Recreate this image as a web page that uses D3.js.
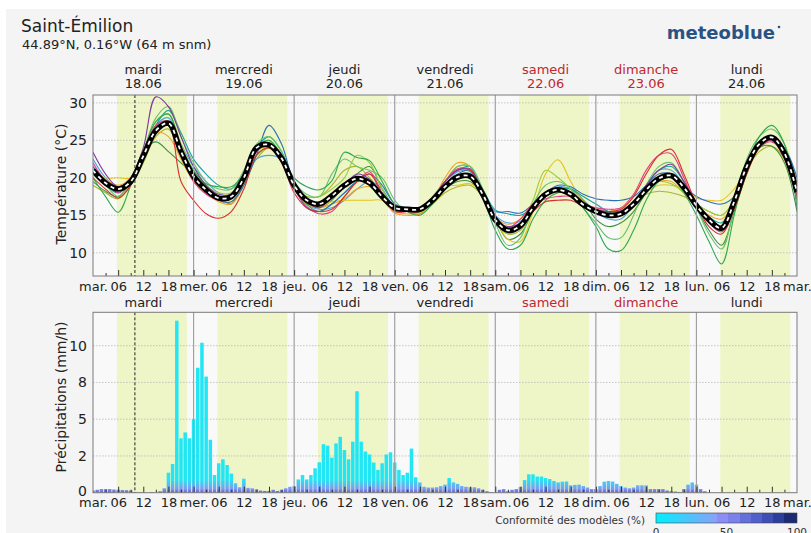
<!DOCTYPE html>
<html><head><meta charset="utf-8">
<script src="https://cdn.jsdelivr.net/npm/d3@7"></script>
<style>
body{margin:0;background:#fff;}
svg{display:block;font-family:"DejaVu Sans",sans-serif;}
</style></head><body>
<svg id="c" width="811" height="533"></svg>
<script>
// ---------- DATA ----------
const dayNames = ["mardi","mercredi","jeudi","vendredi","samedi","dimanche","lundi"];
const dayDates = ["18.06","19.06","20.06","21.06","22.06","23.06","24.06"];
const dayAbbr  = ["mar.","mer.","jeu.","ven.","sam.","dim.","lun.","mar."];
const weekendDays = [4,5];
const hourLabels = ["06","12","18"];
const tempTicks = [10,15,20,25,30];
const precipTicks = [0,2.5,5,7.5,10];
const precipTickLabels = ["0","2","5","8","10"];
const legendTicks = [0,50,100];
const sunriseHour = 5.7, sunsetHour = 22.4, nowHour = 10;

// 3-hourly temperatures (h0 .. h168)
const tempMean = [
 21.0,19.3,18.5,19.5,22.9,26.3,27.3,23.5,
 20.2,18.4,17.3,17.5,20.0,24.0,24.4,22.6,
 19.0,17.0,16.5,17.6,19.0,19.9,19.3,17.5,
 16.0,15.8,15.8,17.0,18.8,20.1,20.2,17.8,
 14.4,13.0,13.6,16.0,17.8,18.4,17.8,16.4,
 15.5,15.0,15.2,16.5,18.4,19.9,20.3,18.7,
 16.3,14.4,13.3,16.8,21.5,24.5,25.4,23.3,
 18.1];
const modelPurple = [
 23.4,20.5,18.8,20.0,24.0,30.8,29.5,25.5,
 21.5,19.0,17.8,17.8,20.0,23.5,24.5,23.0,
 19.0,16.8,16.0,17.5,19.0,20.5,19.8,17.8,
 15.8,15.6,15.6,17.2,19.5,21.0,21.2,18.0,
 14.5,13.5,14.0,16.2,18.0,18.2,17.6,16.5,
 15.8,15.5,15.6,16.8,19.0,21.0,21.8,19.5,
 16.5,14.8,13.5,16.5,21.0,24.5,25.0,23.0,
 18.5];
const modelRed = [
 20.0,18.5,17.3,19.0,23.0,26.5,27.0,19.5,
 17.0,15.2,14.6,15.5,18.5,23.0,24.0,22.0,
 18.0,16.0,15.5,15.8,17.5,19.5,20.5,17.8,
 15.5,15.5,15.5,17.2,19.5,21.0,21.0,17.5,
 14.5,13.2,13.8,15.5,16.8,17.0,17.0,16.2,
 15.5,15.5,15.8,17.5,20.5,23.0,23.8,20.5,
 16.5,13.5,12.5,15.8,20.5,24.0,25.0,22.5,
 17.5];
const modelMagenta = [
 22.0,19.5,18.0,19.8,23.5,27.0,27.5,23.0,
 19.5,17.8,17.0,17.2,19.5,23.8,24.2,22.0,
 18.5,16.2,15.2,15.5,17.5,19.5,20.8,18.0,
 15.6,15.5,15.6,17.3,19.5,21.2,21.0,17.5,
 14.0,13.3,14.5,16.5,17.2,17.5,17.5,16.5,
 16.0,15.8,16.0,17.8,21.0,23.0,23.2,20.0,
 16.2,14.0,12.8,16.0,21.0,24.0,24.8,23.0,
 17.8];
const modelOrange = [
 21.5,19.8,19.0,20.0,23.0,26.0,25.5,22.5,
 19.5,18.0,16.8,16.5,19.0,23.0,24.0,22.5,
 18.5,16.5,16.0,16.5,17.2,18.5,18.8,17.2,
 15.3,15.0,15.2,17.0,20.0,22.0,21.5,18.0,
 14.8,13.8,14.5,16.5,18.0,18.2,17.5,16.5,
 16.0,15.5,15.5,16.8,18.5,19.5,19.5,18.0,
 16.5,15.0,14.5,16.5,21.0,24.2,25.0,23.0,
 18.0];
const modelYellow = [
 21.0,20.0,20.0,20.0,22.5,26.0,27.0,23.5,
 20.0,18.0,17.0,16.8,19.5,23.5,24.0,22.5,
 18.5,16.5,16.2,16.8,17.0,17.0,17.0,17.0,
 15.5,15.2,15.3,16.8,18.8,19.0,19.2,18.0,
 14.5,11.8,11.5,15.5,20.5,22.4,19.5,16.8,
 15.5,15.5,15.8,16.5,18.0,19.0,19.0,18.5,
 17.3,17.0,17.0,18.5,21.0,24.0,25.0,23.5,
 18.5];
const modelGreen = [
 20.0,17.5,15.4,19.0,23.5,27.5,28.5,24.0,
 21.0,19.2,18.8,18.8,20.5,24.0,25.0,23.0,
 20.0,18.8,18.4,19.6,23.4,22.7,22.3,19.5,
 16.5,15.5,15.0,16.5,18.5,20.0,20.5,17.5,
 13.0,10.5,11.0,14.5,17.0,18.0,18.0,16.0,
 13.5,10.5,10.3,13.0,17.0,19.5,20.0,18.0,
 15.0,11.5,8.5,15.0,21.5,25.5,27.0,24.5,
 16.0];
const modelLightGreen = [
 20.5,19.0,17.5,19.5,23.5,28.0,29.5,25.5,
 22.0,19.5,18.5,18.5,21.0,24.5,25.5,23.5,
 19.5,17.8,17.5,20.5,22.5,21.5,21.0,20.0,
 17.0,15.5,15.8,17.5,19.5,21.5,21.5,18.5,
 14.0,11.0,12.0,16.5,19.0,19.5,18.5,16.0,
 14.0,12.0,12.0,15.0,19.0,21.5,22.0,19.5,
 16.0,12.5,10.5,16.0,22.5,25.5,26.5,24.5,
 17.0];
const modelOlive = [
 19.0,18.0,17.2,19.0,22.0,25.5,26.5,23.0,
 20.5,18.5,17.5,17.8,19.5,22.5,24.0,22.5,
 18.8,17.5,17.5,19.0,21.0,21.5,20.0,18.0,
 16.2,15.5,15.5,16.5,18.0,18.8,19.0,17.5,
 14.5,12.5,13.0,15.5,17.5,18.5,18.5,17.0,
 15.8,15.5,15.5,16.5,17.8,18.2,18.0,17.5,
 16.5,15.5,15.0,17.0,21.0,23.5,24.2,22.5,
 17.0];
const modelTeal = [
 20.5,19.0,18.0,19.5,23.0,27.0,29.0,26.0,
 22.5,20.5,19.0,18.5,20.5,24.0,25.5,23.5,
 19.5,16.5,15.5,16.5,18.0,19.5,19.5,18.0,
 16.2,16.0,16.0,17.2,19.5,21.0,21.5,18.5,
 15.7,15.2,15.0,16.0,17.5,18.5,18.5,17.5,
 16.5,15.5,15.0,16.5,19.0,21.0,21.5,19.5,
 16.5,14.8,14.0,17.0,21.5,24.5,25.0,23.5,
 18.5];
const modelBlue = [
 21.5,19.5,18.0,19.5,23.0,26.5,27.0,24.0,
 20.5,18.5,17.0,16.8,19.0,23.0,27.0,24.5,
 19.0,16.0,15.5,16.5,18.0,19.5,20.5,19.0,
 16.5,16.0,15.8,17.0,19.0,20.5,21.0,18.0,
 15.5,15.5,15.3,16.5,18.0,19.0,18.8,17.8,
 17.2,17.0,17.0,17.5,19.0,20.5,20.5,19.0,
 17.5,16.8,16.5,17.5,21.0,24.0,25.2,24.0,
 20.0];
const modelDarkGreen = [
 19.5,18.2,17.5,19.5,23.5,24.8,23.5,22.0,
 20.5,19.0,17.5,16.5,19.5,23.0,24.0,23.0,
 19.5,17.0,16.0,17.0,19.0,20.5,21.5,18.5,
 16.0,15.5,15.2,16.8,18.5,19.5,19.5,17.5,
 14.5,11.8,12.5,15.5,17.5,18.5,18.5,17.0,
 14.5,13.5,14.0,15.5,18.0,20.0,20.5,19.0,
 16.0,13.0,11.0,15.5,20.5,24.0,24.2,22.0,
 15.5];
const modelLightBlue = [
 22.5,20.0,18.8,20.0,23.0,27.0,28.0,24.5,
 21.5,19.5,18.0,17.5,19.5,22.5,23.0,22.5,
 19.0,16.5,15.8,16.0,17.0,18.5,19.5,18.5,
 16.0,15.8,15.8,17.0,19.0,20.8,20.8,17.8,
 15.0,14.0,14.2,16.0,17.8,18.8,18.5,17.0,
 15.5,14.5,14.5,16.5,19.0,21.0,21.0,19.0,
 16.0,14.0,13.0,16.5,21.5,24.5,25.2,23.5,
 19.0];
const modelLime = [
 21.0,19.5,18.5,19.5,23.0,27.5,28.5,24.5,
 21.0,19.0,18.0,18.0,20.5,24.0,25.0,23.0,
 19.0,17.5,17.5,18.5,20.0,23.0,22.0,18.5,
 16.0,15.5,15.5,17.0,19.5,21.5,21.5,18.0,
 14.0,12.5,13.5,17.0,21.0,20.0,18.5,16.5,
 15.5,15.0,15.2,16.5,18.5,19.5,19.2,18.0,
 16.5,15.5,15.0,17.0,21.5,24.5,25.5,23.5,
 18.0];
const modelSeries = [modelOlive, modelDarkGreen, modelLightBlue, modelOrange, modelYellow,
  modelTeal, modelBlue, modelLime, modelLightGreen, modelGreen, modelMagenta, modelRed, modelPurple];
const modelColors = ["#a9b531","#3f8f3a","#4fa3dc","#f0a030","#e6c21c",
  "#1aa39a","#2a6fb8","#9ccc3c","#6cc070","#2fa84f","#e0408a","#d6302c","#7e3a9c"];

// hourly precipitation (mm/h), h0 .. h167
const precip = [
 0.15,0.2,0.25,0.25,0.25,0.22,0.2,0.18,0.17,0.15,0.05,0.03,
 0.02,0.0,0.05,0.0,0.1,0.3,1.36,1.95,11.7,3.7,4.1,3.7,
 5.0,8.5,10.2,7.9,3.6,1.2,2.0,2.27,1.88,1.3,0.64,0.37,
 0.95,0.33,0.3,0.23,0.15,0.12,0.12,0.2,0.12,0.2,0.3,0.4,
 0.45,0.9,1.2,0.9,1.2,1.66,2.07,3.3,3.2,2.38,3.35,3.8,
 2.9,2.27,3.47,6.9,3.47,2.8,2.6,2.05,1.55,2.0,2.6,2.75,
 2.05,1.55,1.2,1.36,3.0,1.05,0.7,0.4,0.35,0.35,0.37,0.45,
 0.55,1.0,0.7,0.6,0.45,0.4,0.37,0.37,0.3,0.2,0.1,0.05,
 0.0,0.2,0.25,0.1,0.2,0.25,0.4,0.86,1.25,1.25,1.1,1.1,
 1.0,0.93,0.8,0.7,0.75,0.76,0.5,0.53,0.55,0.45,0.35,0.25,
 0.25,0.45,0.75,0.8,0.76,0.6,0.45,0.35,0.3,0.35,0.5,0.5,
 0.5,0.25,0.25,0.25,0.25,0.15,0.1,0.08,0.05,0.25,0.55,0.7,
 0.55,0.25,0.1,0,0,0,0,0,0,0,0,0,
 0,0,0,0,0,0,0,0,0,0,0,0];

// ---------- CHART ----------
const svg = d3.select("#c");
const FONT = "DejaVu Sans";
const X0 = 93, X1 = 797;
const T_TOP = 95, T_BOT = 276, P_TOP = 312.3, P_BOT = 492.7;
const x = d3.scaleLinear().domain([0,168]).range([X0,X1]);
const yT = d3.scaleLinear().domain([6.9,31.05]).range([T_BOT,T_TOP]);
const yP = d3.scaleLinear().domain([0,12.27]).range([P_BOT,P_TOP]);

svg.append("rect").attr("x",6).attr("y",9).attr("width",805).attr("height",524).attr("fill","#f4f4f4");

const defs = svg.append("defs");
defs.append("clipPath").attr("id","clipT").append("rect")
  .attr("x",X0).attr("y",T_TOP).attr("width",X1-X0).attr("height",T_BOT-T_TOP);
defs.append("clipPath").attr("id","clipP").append("rect")
  .attr("x",X0).attr("y",P_TOP).attr("width",X1-X0).attr("height",P_BOT-P_TOP);
const barGrad = defs.append("linearGradient").attr("id","barGrad")
  .attr("gradientUnits","userSpaceOnUse").attr("x1",0).attr("x2",0)
  .attr("y1",yP(0)).attr("y2",yP(0.9));
barGrad.append("stop").attr("offset",0).attr("stop-color","#6a5fd8");
barGrad.append("stop").attr("offset",0.3).attr("stop-color","#7f9cf0");
barGrad.append("stop").attr("offset",1).attr("stop-color","#22e6f4");
const legGrad = defs.append("linearGradient").attr("id","legGrad");
[[0,"#00f0ff"],[0.43,"#8aa0f8"],[0.43,"#8c8ef5"],[0.51,"#8c8ef5"],[0.51,"#7b80ea"],[0.594,"#7b80ea"],
 [0.594,"#6470dc"],[0.677,"#6470dc"],[0.677,"#5060cc"],[0.755,"#5060cc"],[0.755,"#3e4fb5"],[0.83,"#3e4fb5"],
 [0.83,"#2d3f9c"],[0.906,"#2d3f9c"],[0.906,"#1c2c74"],[1,"#1c2c74"]]
 .forEach(([o,c])=>legGrad.append("stop").attr("offset",o).attr("stop-color",c));

function panel(top,bot){
  const g = svg.append("g");
  g.append("rect").attr("x",X0).attr("y",top).attr("width",X1-X0).attr("height",bot-top).attr("fill","#f9f9f9");
  g.selectAll("rect.band").data(d3.range(7)).join("rect").attr("class","band")
    .attr("x",d=>x(d*24+sunriseHour)).attr("width",d=>x(d*24+sunsetHour)-x(d*24+sunriseHour))
    .attr("y",top).attr("height",bot-top).attr("fill","#eef5c6");
  return g;
}
function gridY(g,scale,ticks){
  g.selectAll("line.grid").data(ticks).join("line").attr("class","grid")
    .attr("x1",X0).attr("x2",X1).attr("y1",d=>scale(d)).attr("y2",d=>scale(d))
    .attr("stroke","#b8b8b8").attr("stroke-width",0.8).attr("stroke-dasharray","1.5,1.5");
}
function frame(g,top,bot){
  g.selectAll("line.day").data(d3.range(1,7)).join("line").attr("class","day")
    .attr("x1",d=>x(d*24)).attr("x2",d=>x(d*24)).attr("y1",top).attr("y2",bot)
    .attr("stroke","#a0a0a0").attr("stroke-width",1.2);
  g.append("line").attr("x1",x(nowHour)).attr("x2",x(nowHour)).attr("y1",top).attr("y2",bot)
    .attr("stroke","#222").attr("stroke-width",1).attr("stroke-dasharray","3,2");
  const t3 = d3.axisBottom(x).tickValues(d3.range(3,168,6)).tickFormat("").tickSize(-3);
  const t6 = d3.axisBottom(x).tickValues(d3.range(6,168,6)).tickFormat("").tickSize(-6);
  [t3,t6].forEach(a=>{
    const ag = g.append("g").attr("transform",`translate(0,${bot})`).call(a);
    ag.select(".domain").remove();
    ag.selectAll("line").attr("stroke","#333");
  });
  g.append("rect").attr("x",X0).attr("y",top).attr("width",X1-X0).attr("height",bot-top)
    .attr("fill","none").attr("stroke","#7a7a7a").attr("stroke-width",1);
}
function fmtHour(h){ return h%24===0 ? dayAbbr[h/24] : hourLabels[(h%24)/6-1]; }
function bottomAxis(yPos,pad){
  const a = d3.axisBottom(x).tickValues(d3.range(0,169,6)).tickFormat(fmtHour).tickSize(0).tickPadding(pad);
  const ag = svg.append("g").attr("transform",`translate(0,${yPos})`).call(a);
  ag.select(".domain").remove();
  ag.attr("font-family",FONT).attr("font-size",13);
  ag.selectAll("text").attr("fill","#222");
}
function leftAxis(scale,ticks,labels,dy){
  const a = d3.axisLeft(scale).tickValues(ticks).tickSize(0).tickPadding(6)
    .tickFormat((d,i)=>labels ? labels[i] : d);
  const ag = svg.append("g").attr("transform",`translate(${X0},0)`).call(a);
  ag.select(".domain").remove();
  ag.attr("font-family",FONT).attr("font-size",14);
  ag.selectAll("text").attr("fill","#222").attr("transform",(d)=>d===0&&dy?`translate(0,${dy})`:null);
}

// ---- Temperature panel ----
const gT = panel(T_TOP,T_BOT);
gridY(gT,yT,tempTicks);
const lineT = d3.line().x((d,i)=>x(i*3)).y(d=>yT(d)).curve(d3.curveCatmullRom.alpha(0.5));
const gLines = gT.append("g").attr("clip-path","url(#clipT)");
gLines.selectAll("path.model").data(modelSeries).join("path").attr("class","model")
  .attr("d",lineT).attr("fill","none").attr("stroke",(d,i)=>modelColors[i]).attr("stroke-width",1.1);
gLines.append("path").attr("d",lineT(tempMean)).attr("fill","none").attr("stroke","#000").attr("stroke-width",5.5);
gLines.append("path").attr("d",lineT(tempMean)).attr("fill","none").attr("stroke","#fff").attr("stroke-width",1.8)
  .attr("stroke-dasharray","4,4");
frame(gT,T_TOP,T_BOT);
leftAxis(yT,tempTicks,null,0);
bottomAxis(T_BOT,6);

// ---- Precipitation panel ----
const gP = panel(P_TOP,P_BOT);
gridY(gP,yP,precipTicks.slice(1));
gP.append("g").attr("clip-path","url(#clipP)").selectAll("rect.bar").data(precip).join("rect").attr("class","bar")
  .attr("x",(d,i)=>x(i)-1.75).attr("width",3.5)
  .attr("y",d=>yP(d)).attr("height",d=>yP(0)-yP(d)).attr("fill","url(#barGrad)");
frame(gP,P_TOP,P_BOT);
leftAxis(yP,precipTicks,precipTickLabels,-2);
bottomAxis(P_BOT,5);

// ---- Day headers ----
const hdr = svg.append("g").attr("font-family",FONT).attr("font-size",13).attr("text-anchor","middle");
hdr.selectAll("text.dn").data(dayNames).join("text").attr("class","dn")
  .attr("x",(d,i)=>x(i*24+12)).attr("y",74).text(d=>d)
  .attr("fill",(d,i)=>weekendDays.includes(i)?"#c0282d":"#222");
hdr.selectAll("text.dd").data(dayDates).join("text").attr("class","dd")
  .attr("x",(d,i)=>x(i*24+12)).attr("y",88).text(d=>d)
  .attr("fill",(d,i)=>weekendDays.includes(i)?"#c0282d":"#222");
hdr.selectAll("text.dp").data(dayNames).join("text").attr("class","dp")
  .attr("x",(d,i)=>x(i*24+12)).attr("y",307).text(d=>d)
  .attr("fill",(d,i)=>weekendDays.includes(i)?"#c0282d":"#222");

// ---- Axis titles ----
svg.append("text").attr("transform","translate(66,184) rotate(-90)").attr("text-anchor","middle")
  .attr("font-family",FONT).attr("font-size",14).attr("fill","#222").text("Température (°C)");
svg.append("text").attr("transform","translate(66,397) rotate(-90)").attr("text-anchor","middle")
  .attr("font-family",FONT).attr("font-size",14).attr("fill","#222").text("Précipitations (mm/h)");

// ---- Title ----
svg.append("text").attr("x",21).attr("y",32).attr("font-family",FONT).attr("font-size",17).attr("fill","#222").text("Saint-Émilion");
svg.append("text").attr("x",22).attr("y",49).attr("font-family",FONT).attr("font-size",13).attr("fill","#222").text("44.89°N, 0.16°W (64 m snm)");
svg.append("text").attr("x",775).attr("y",39).attr("text-anchor","end").attr("font-family",FONT)
  .attr("font-size",18).attr("font-weight","bold").attr("fill","#2a5384").text("meteoblue");
svg.append("circle").attr("cx",779).attr("cy",27).attr("r",1.3).attr("fill","#2a5384");

// ---- Legend ----
svg.append("text").attr("x",645).attr("y",524).attr("text-anchor","end").attr("font-family",FONT)
  .attr("font-size",10.5).attr("fill","#333").text("Conformité des modèles (%)");
const leg = d3.scaleLinear().domain([0,100]).range([656,797]);
svg.append("rect").attr("x",leg(0)).attr("y",513).attr("width",leg(100)-leg(0)).attr("height",10)
  .attr("fill","url(#legGrad)").attr("stroke","#444").attr("stroke-width",0.6);
svg.append("g").selectAll("text").data(legendTicks).join("text")
  .attr("x",d=>leg(d)).attr("y",536).attr("text-anchor","middle").attr("font-family",FONT)
  .attr("font-size",10.5).attr("fill","#333").text(d=>d);
</script>
</body></html>
